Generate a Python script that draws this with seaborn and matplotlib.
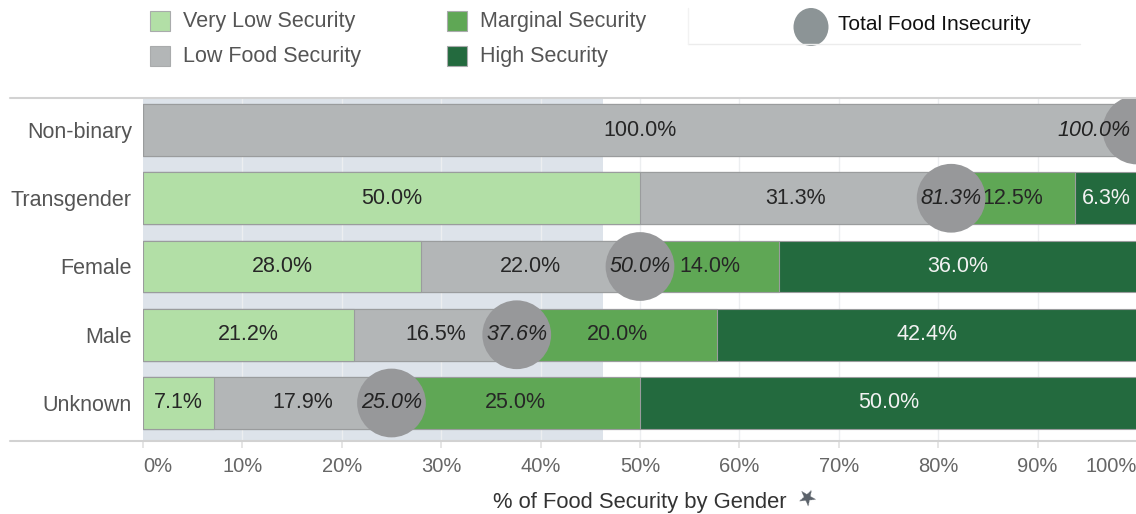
import numpy as np
import pandas as pd
import matplotlib
matplotlib.use("Agg")
import matplotlib.pyplot as plt
import seaborn as sns
from matplotlib.lines import Line2D
from matplotlib.patches import Rectangle, Ellipse

# data (percent)
genders = ["Non-binary", "Transgender", "Female", "Male", "Unknown"]
very_low = [0.0, 50.0, 28.0, 21.2, 7.1]
low_food = [100.0, 31.3, 22.0, 16.5, 17.9]
marginal = [0.0, 12.5, 14.0, 20.0, 25.0]
high_sec = [0.0, 6.3, 36.0, 42.4, 50.0]
total_insecurity = [100.0, 81.3, 50.0, 37.6, 25.0]

series_names = ["Very Low Security", "Low Food Security", "Marginal Security", "High Security"]
colors = ["#b2dfa6", "#b3b6b7", "#5fa755", "#236a3e"]

df = pd.DataFrame({"gender": genders, "very_low": very_low, "low": low_food,
                   "marginal": marginal, "high": high_sec, "total": total_insecurity})
cols = ["very_low", "low", "marginal", "high"]
cum = df[cols].cumsum(axis=1)

sns.set_theme(style="white")
plt.rcParams["font.family"] = ["Liberation Sans", "DejaVu Sans"]

fig = plt.figure(figsize=(11.36, 5.14), dpi=100)
W, H = 1136, 514
ax = fig.add_axes([143 / W, 1 - 440 / H, 994 / W, 342 / H])

# shaded band on the left part
ax.axvspan(0, 46.3, color="#dde3ea", zorder=0, lw=0)
for v in range(10, 100, 10):
    ax.axvline(v, color="#eceef0", lw=1, zorder=0.5)

# stacked bars: draw cumulative totals from largest to smallest
for c, col in reversed(list(zip(colors, cols))):
    sns.barplot(x=cum[col], y=df["gender"], orient="h", color=c, saturation=1,
                width=0.76, edgecolor="#9a9c9d", linewidth=0.8, ax=ax, zorder=2)

# segment labels
for i in range(len(genders)):
    left = 0.0
    for j, col in enumerate(cols):
        val = df[col][i]
        if val > 0:
            tc = "#f2f2f2" if col == "high" else "#262626"
            ax.text(left + val / 2, i, f"{val:.1f}%", ha="center", va="center",
                    fontsize=15.5, color=tc, zorder=3)
        left += val

# total food insecurity circles
ax.scatter(df["total"], np.arange(len(genders)), s=2450, color="#97989a",
           edgecolor="none", zorder=4, clip_on=True)
for i, t in enumerate(df["total"]):
    if t >= 99.5:
        ax.text(99.4, i, f"{t:.1f}%", ha="right", va="center", fontsize=15.5,
                style="italic", color="#222222", zorder=5)
    else:
        ax.text(t, i, f"{t:.1f}%", ha="center", va="center", fontsize=15.5,
                style="italic", color="#222222", zorder=5)

ax.set_xlim(0, 100)
ax.set_ylim(4 + 37 / 68.25, -32 / 68.25)
ax.set_xticks(range(0, 101, 10))
ax.set_xticklabels([f"{v}%" for v in range(0, 101, 10)], fontsize=14.5, color="#666666")
xt = ax.get_xticklabels()
xt[0].set_ha("left")
xt[-1].set_ha("right")
ax.tick_params(axis="x", length=6, color="#e2e2e2", pad=6, bottom=True)
ax.tick_params(axis="y", length=0, pad=8, labelsize=15.5, labelcolor="#555555")
ax.set_ylabel("")
ax.set_xlabel("% of Food Security by Gender", fontsize=15.8, color="#333333", labelpad=12)
for s in ax.spines.values():
    s.set_visible(False)

# frame lines across the top and bottom of the plot area
fig.add_artist(Line2D([10 / W, 1], [1 - 98 / H, 1 - 98 / H], color="#d2d2d2", lw=1.5))
fig.add_artist(Line2D([10 / W, 1], [1 - 441 / H, 1 - 441 / H], color="#d2d2d2", lw=1.5))

# legend
def fy(py):
    return 1 - py / H

leg_pos = [(150, 21), (150, 56), (447, 21), (447, 56)]
for (px, py), name, c in zip(leg_pos, series_names, colors):
    fig.add_artist(Rectangle((px / W, fy(py + 10)), 20 / W, 20 / H, facecolor=c,
                             edgecolor="#a9abac", lw=0.8))
    fig.text((px + 33) / W, fy(py), name, ha="left", va="center", fontsize=15.5, color="#555555")

fig.add_artist(Ellipse((811 / W, fy(27)), 35 / W, 38 / H, facecolor="#8c9496", edgecolor="none"))
fig.text(838 / W, fy(24), "Total Food Insecurity", ha="left", va="center", fontsize=15,
         color="#111111")
fig.add_artist(Line2D([688 / W, 1080 / W], [fy(44), fy(44)], color="#ececec", lw=1))
fig.add_artist(Line2D([688 / W, 688 / W], [fy(8), fy(44)], color="#f2f2f2", lw=1))

# small pin next to the axis title
fig.text(805 / W, fy(500), "\u2605", ha="center", va="center", fontsize=16,
         color="#5a6169", rotation=-30, family="DejaVu Sans")

fig.savefig("out.png", dpi=100)
